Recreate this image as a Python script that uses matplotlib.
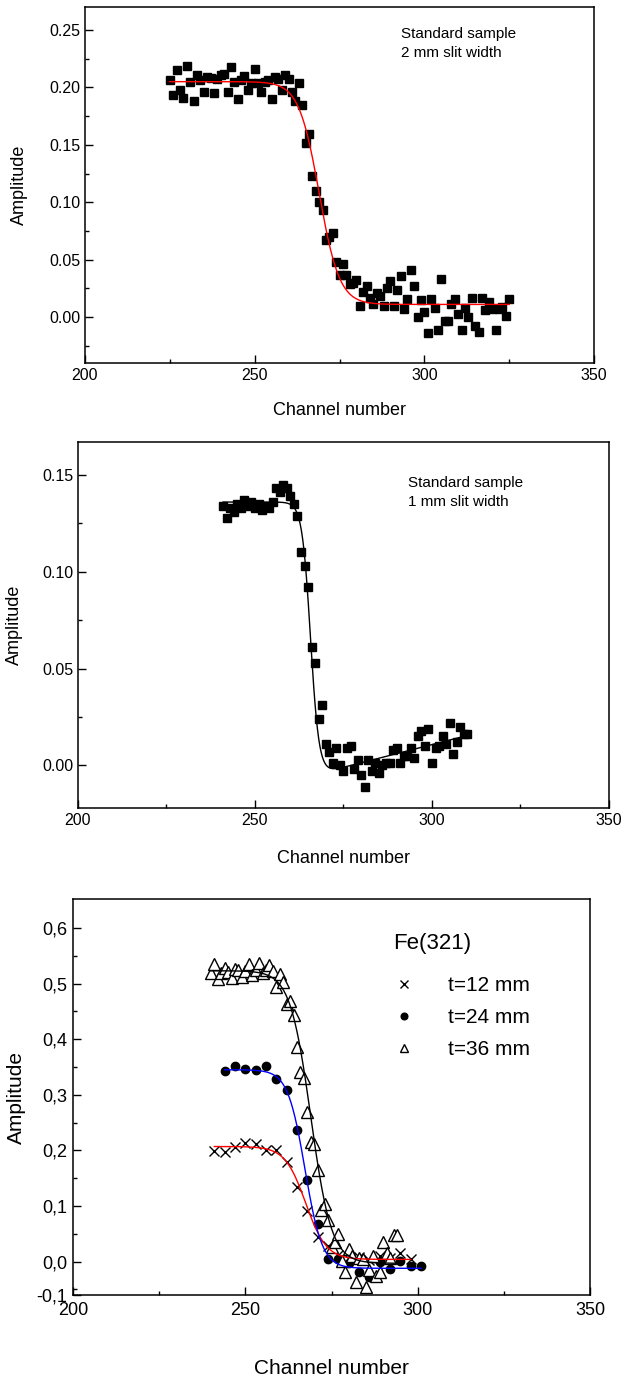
import numpy as np
import matplotlib
matplotlib.use('Agg')
import matplotlib.pyplot as plt
from matplotlib.ticker import MultipleLocator, FixedLocator

plt.rcParams['font.family'] = ['Liberation Sans', 'DejaVu Sans']

# ---- panel 1: standard sample, 2 mm slit
ch1 = list(range(225, 326))
amp1 = [0.206, 0.193, 0.215, 0.198, 0.191, 0.219, 0.205, 0.188, 0.211, 0.206,
        0.196, 0.209, 0.208, 0.195, 0.207, 0.211, 0.212, 0.196, 0.218, 0.205,
        0.190, 0.206, 0.210, 0.198, 0.204, 0.216, 0.204, 0.196, 0.205, 0.206,
        0.190, 0.209, 0.207, 0.198, 0.211, 0.207, 0.196, 0.188, 0.204, 0.185,
        0.152, 0.159, 0.123, 0.110, 0.100, 0.093, 0.067, 0.070, 0.073, 0.048,
        0.037, 0.046, 0.037, 0.029, 0.030, 0.032, 0.010, 0.022, 0.027, 0.017,
        0.011, 0.021, 0.018, 0.010, 0.025, 0.031, 0.010, 0.024, 0.036, 0.007,
        0.016, 0.041, 0.027, 0.000, 0.015, 0.004, -0.014, 0.016, 0.008, -0.011,
        0.033, -0.003, -0.003, 0.011, 0.016, 0.003, -0.011, 0.008, 0.000, 0.017,
        -0.008, -0.013, 0.017, 0.006, 0.013, 0.007, -0.011, 0.007, 0.009, 0.001,
        0.016]
# Boltzmann fit parameters (top, bottom, centre, width)
fit1 = [0.205, 0.011, 269.0, 3.0]

# ---- panel 2: standard sample, 1 mm slit
ch2 = list(range(241, 311))
amp2 = [0.134, 0.128, 0.133, 0.131, 0.135, 0.133, 0.137, 0.134, 0.136, 0.133,
        0.135, 0.132, 0.134, 0.133, 0.136, 0.143, 0.141, 0.145, 0.143, 0.139,
        0.135, 0.129, 0.110, 0.103, 0.092, 0.061, 0.053, 0.024, 0.031, 0.011,
        0.007, 0.001, 0.009, 0.000, -0.003, 0.009, 0.010, -0.002, 0.003, -0.005,
        -0.011, 0.003, -0.003, 0.001, -0.004, 0.000, 0.001, 0.001, 0.008, 0.009,
        0.001, 0.005, 0.005, 0.009, 0.004, 0.015, 0.018, 0.010, 0.019, 0.001,
        0.009, 0.010, 0.015, 0.011, 0.022, 0.006, 0.012, 0.020, 0.016, 0.016]
# top, centre, width, baseline at 275, baseline slope
fit2 = [0.136, 265.7, 1.2, -0.001, 0.00047]

# ---- panel 3: Fe(321)
ch12 = [241, 244, 247, 250, 253, 256, 259, 262, 265, 268,
        271, 274, 277, 280, 283, 286, 289, 292, 295, 298]
amp12 = [0.199, 0.197, 0.207, 0.213, 0.211, 0.200, 0.200, 0.179, 0.134, 0.091,
         0.045, 0.029, 0.012, 0.004, 0.008, 0.003, 0.010, 0.006, 0.015, 0.005]
ch24 = [244, 247, 250, 253, 256, 259, 262, 265, 268, 271,
        274, 277, 280, 283, 286, 289, 292, 295, 298, 301]
amp24 = [0.343, 0.352, 0.346, 0.345, 0.351, 0.329, 0.308, 0.237, 0.147, 0.067,
         0.005, 0.004, -0.003, -0.018, -0.028, -0.001, -0.013, 0.002, -0.007, -0.008]
ch36 = list(range(240, 295))
amp36 = [0.519, 0.535, 0.508, 0.519, 0.528, 0.520, 0.510, 0.527, 0.524, 0.511,
         0.523, 0.535, 0.515, 0.525, 0.537, 0.519, 0.524, 0.534, 0.522, 0.493,
         0.517, 0.503, 0.463, 0.469, 0.443, 0.386, 0.341, 0.330, 0.269, 0.215,
         0.212, 0.165, 0.092, 0.104, 0.074, 0.026, 0.035, 0.049, 0.002, -0.019,
         0.023, 0.010, -0.037, 0.007, 0.005, -0.046, -0.015, 0.011, -0.026, -0.018,
         0.036, 0.015, 0.007, 0.047, 0.047]
fit12 = [0.207, 0.004, 267.5, 3.0]
fit24 = [0.345, -0.012, 267.3, 2.5]
fit36 = [0.523, -0.003, 269.0, 3.0]
labels3 = ['t=12 mm', 't=24 mm', 't=36 mm']


def boltzmann(x, a1, a2, x0, dx):
    return a2 + (a1 - a2) / (1 + np.exp((x - x0) / dx))


def style_axes(ax, xlabel, ylabel, fs_tick, fs_lab, xpad=4, ypad=6):
    ax.set_xlim(200, 350)
    ax.xaxis.set_major_locator(MultipleLocator(50))
    ax.xaxis.set_minor_locator(MultipleLocator(25))
    ax.tick_params(which='both', direction='in', top=False, right=False,
                   labelsize=fs_tick, width=1)
    ax.tick_params(which='major', length=6)
    ax.tick_params(which='minor', length=3)
    for s in ax.spines.values():
        s.set_linewidth(1.1)
    ax.set_xlabel(xlabel, fontsize=fs_lab, labelpad=xpad)
    ax.set_ylabel(ylabel, fontsize=fs_lab, labelpad=ypad)


fig = plt.figure(figsize=(6.24, 13.89), dpi=100)

# panel 1
ax1 = fig.add_axes([85/624, 1-363/1389, 509/624, 356/1389])
ax1.plot(ch1, amp1, 's', color='black', ms=5.5)
xf = np.linspace(ch1[0], ch1[-1], 400)
ax1.plot(xf, boltzmann(xf, *fit1), color='red', lw=1)
ax1.set_ylim(-0.04, 0.27)
ax1.yaxis.set_major_locator(MultipleLocator(0.05))
ax1.yaxis.set_minor_locator(MultipleLocator(0.025))
ax1.yaxis.set_major_formatter(lambda v, p: f'{v:.2f}')
ax1.text(293, 0.238, 'Standard sample\n2 mm slit width', fontsize=11,
         va='center', linespacing=1.5)
style_axes(ax1, 'Channel number', 'Amplitude', 11.5, 13, xpad=14, ypad=15)

# panel 2
ax2 = fig.add_axes([78/624, 1-808/1389, 531/624, 366/1389])
ax2.plot(ch2, amp2, 's', color='black', ms=5.5)
xf = np.linspace(ch2[0], ch2[-1], 400)
s = 1 / (1 + np.exp((xf - fit2[1]) / fit2[2]))
base = fit2[3] + fit2[4] * (xf - 275)
ax2.plot(xf, base + (fit2[0] - base) * s, color='black', lw=1)
ax2.set_ylim(-0.022, 0.167)
ax2.yaxis.set_major_locator(MultipleLocator(0.05))
ax2.yaxis.set_minor_locator(MultipleLocator(0.025))
ax2.yaxis.set_major_formatter(lambda v, p: f'{v:.2f}')
ax2.text(293.2, 0.141, 'Standard sample\n1 mm slit width', fontsize=11,
         va='center', linespacing=1.5)
style_axes(ax2, 'Channel number', 'Amplitude', 11.5, 13, xpad=16, ypad=14)

# panel 3
ax3 = fig.add_axes([73/624, 1-1295/1389, 517/624, 396/1389])
ax3.plot(ch12, amp12, 'x', color='black', ms=7, mew=1, label=labels3[0])
ax3.plot(ch24, amp24, 'o', color='black', ms=6, label=labels3[1])
ax3.plot(ch36, amp36, '^', color='black', mfc='white', ms=8, mew=1,
         label=labels3[2])
for chs, p, c in [(ch12, fit12, 'red'), (ch24, fit24, 'blue'), (ch36, fit36, 'black')]:
    xf = np.linspace(chs[0], chs[-1], 300)
    ax3.plot(xf, boltzmann(xf, *p), color=c, lw=1)
ax3.set_ylim(-0.06, 0.652)
yt = [-0.06, 0.0, 0.1, 0.2, 0.3, 0.4, 0.5, 0.6]
ax3.yaxis.set_major_locator(FixedLocator(yt))
ax3.set_yticklabels(['-0,1', '0,0', '0,1', '0,2', '0,3', '0,4', '0,5', '0,6'])
ax3.yaxis.set_minor_locator(FixedLocator([-0.05, 0.05, 0.15, 0.25, 0.35, 0.45, 0.55]))
style_axes(ax3, 'Channel number', 'Amplitude', 13, 15, xpad=29, ypad=8)
ax3.tick_params(axis='x', pad=5)
ax3.tick_params(axis='y', pad=4)
leg = ax3.legend(loc='upper left', bbox_to_anchor=(0.6, 0.94), frameon=False,
                 title='Fe(321)', fontsize=15, title_fontsize=16,
                 handlelength=1.0, handletextpad=1.6, labelspacing=0.62,
                 markerscale=0.8, borderpad=0)
leg._legend_box.align = 'left'
leg._legend_box.sep = 16

fig.savefig('out.png', dpi=100)
